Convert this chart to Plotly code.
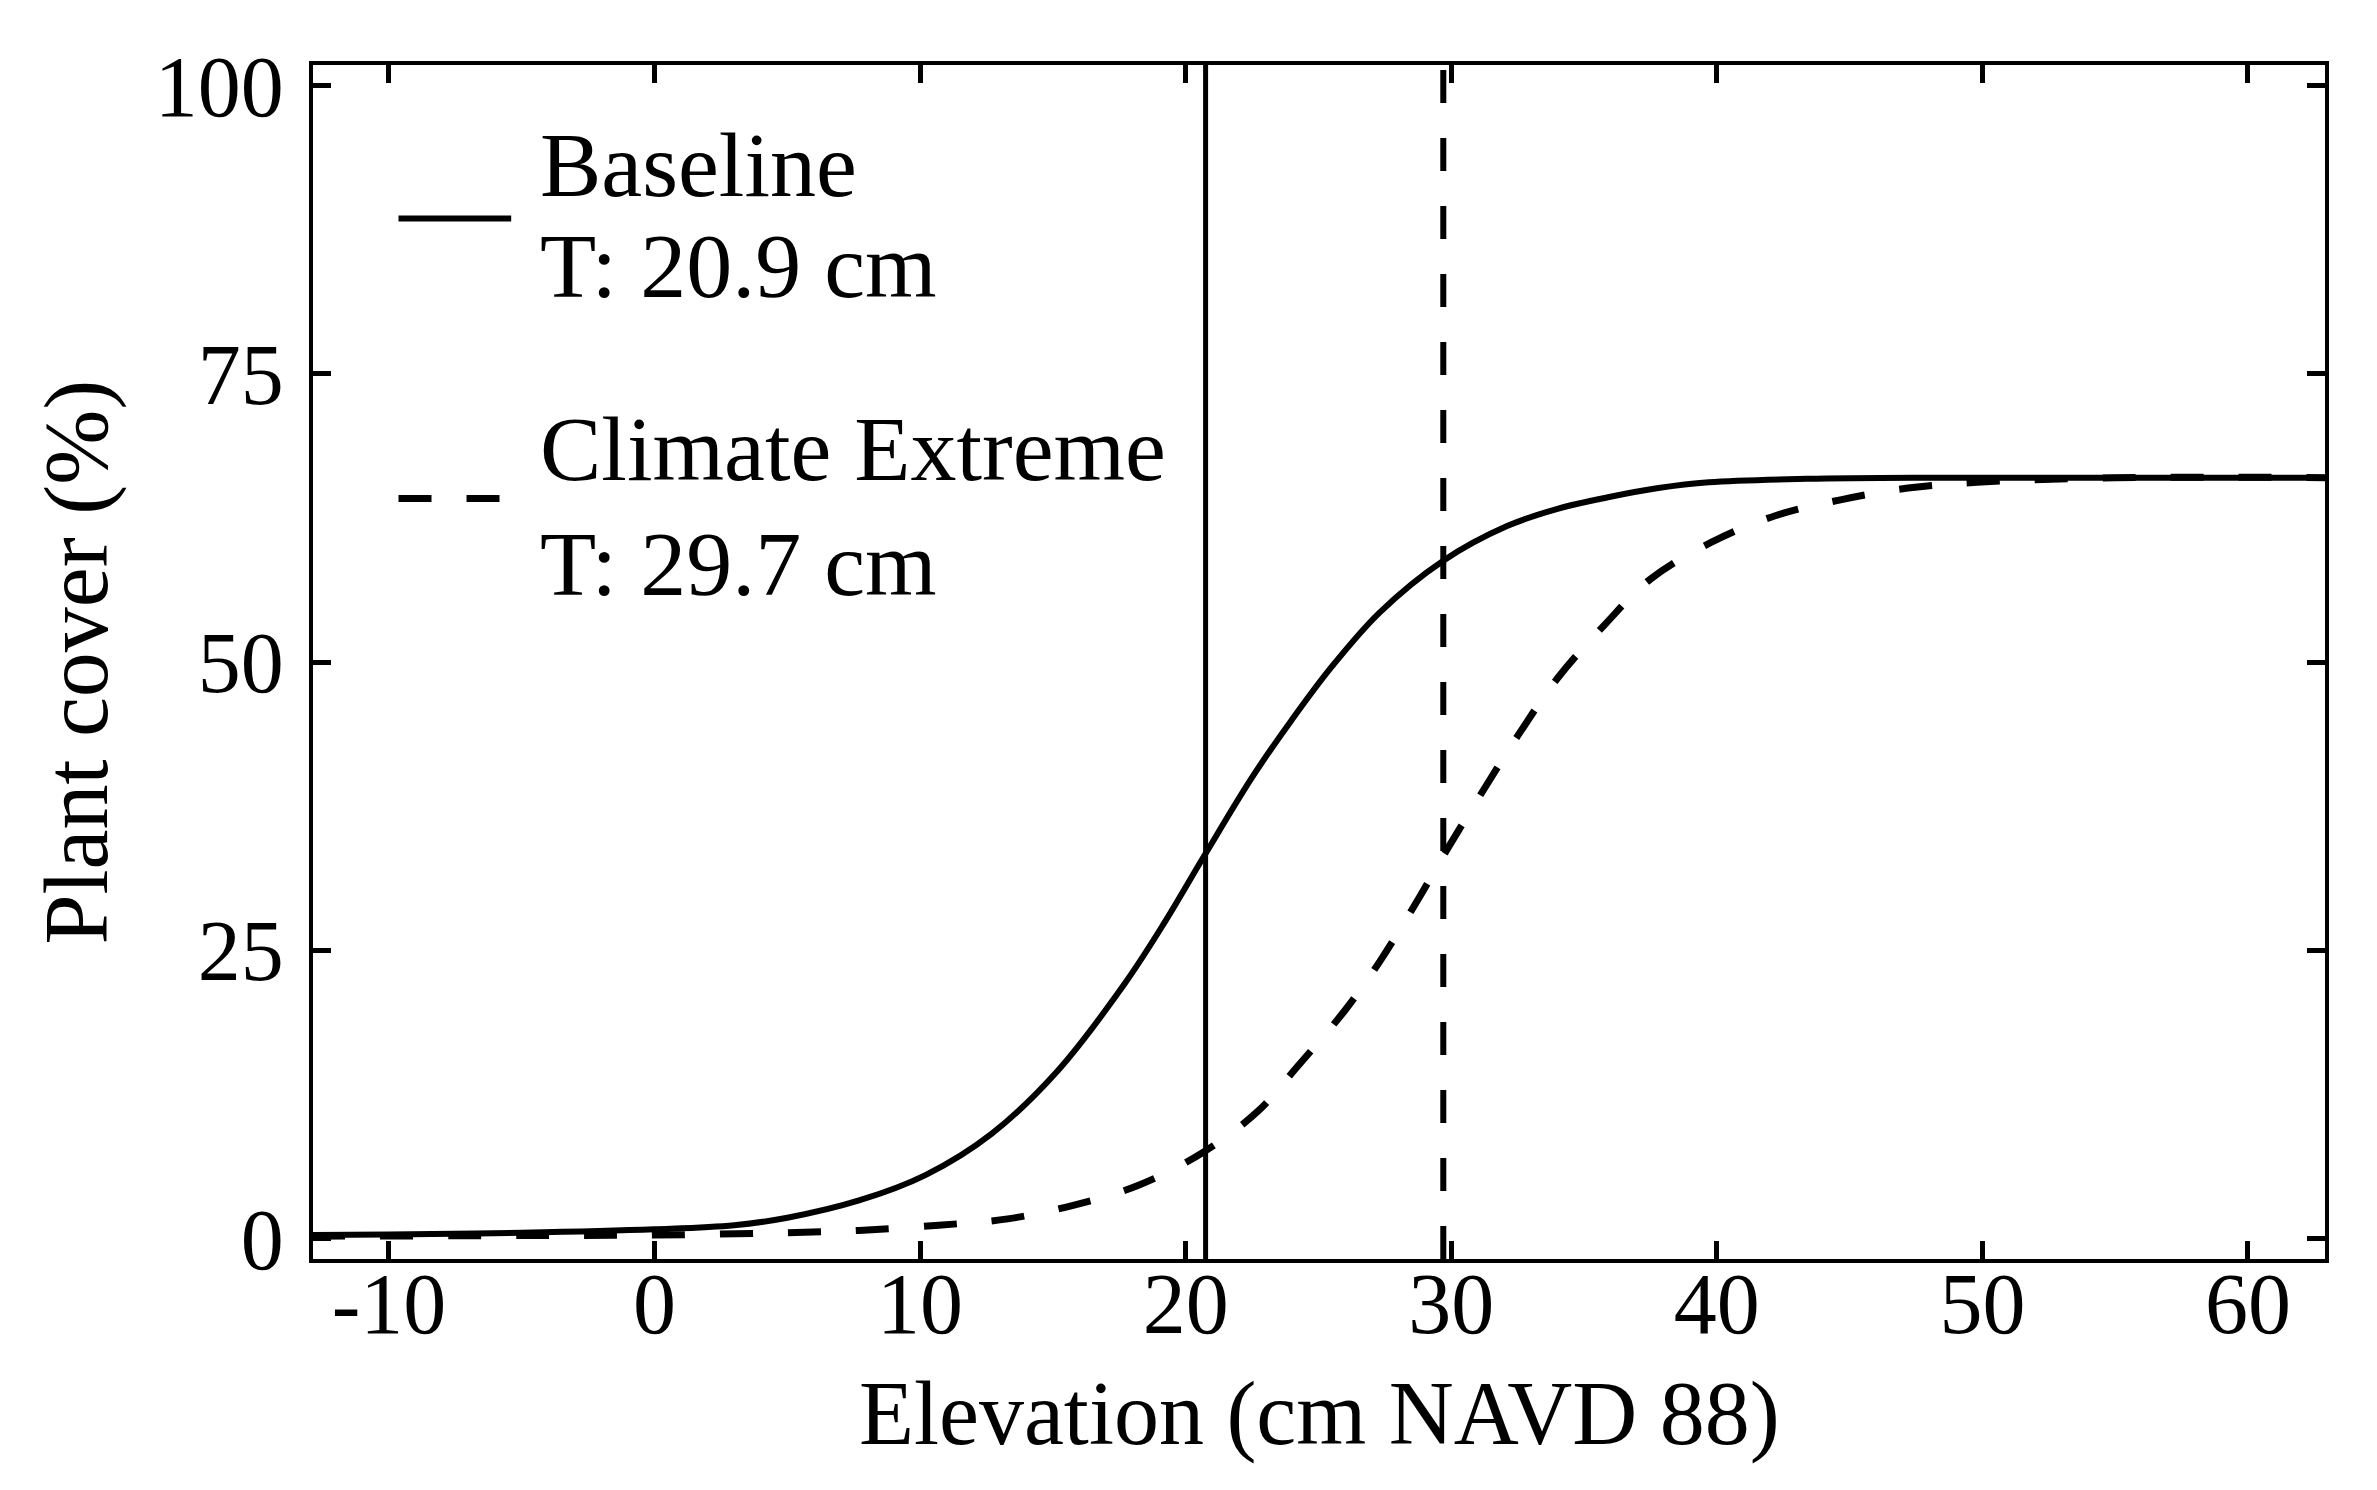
import plotly.graph_objects as go

# Plant cover vs elevation
BASELINE_X = [-12.9, -10, -5, 0, 3, 5, 7.7, 10.2, 12.7, 15.2, 17.7, 19.2, 20.7, 22.5, 24,
              25.5, 27.3, 29.7, 32.1, 34, 35.9, 37.8, 39.7, 43.4, 48, 55, 62.9]
BASELINE_Y = [0.3, 0.35, 0.5, 0.8, 1.15, 1.8, 3.3, 5.5, 9.1, 14.6, 22.1, 27.4, 33.2, 40.0,
              45.0, 49.6, 54.3, 58.8, 61.8, 63.3, 64.3, 65.1, 65.6, 65.9, 66.0, 66.0, 66.0]

EXTREME_X = [-12.9, -5, 0, 5, 7.7, 10.7, 13.3, 15.8, 18.2, 20.6, 22.7, 24.2, 26, 27.3, 28.8,
             29.7, 31.4, 32.5, 34, 35.8, 37.5, 39.8, 42.2, 44.7, 47.2, 49.8, 55, 62.9]
EXTREME_Y = [0.2, 0.25, 0.3, 0.5, 0.7, 1.15, 1.7, 2.9, 4.6, 7.4, 11.0, 14.9, 19.8, 24.0, 29.6,
             33.2, 39.6, 43.6, 48.6, 53.3, 57.2, 60.4, 62.7, 64.1, 65.1, 65.6, 66.0, 66.0]

THRESHOLDS = [20.75, 29.7]  # vertical T lines (baseline, climate extreme)
LEGEND_TEXT = [["Baseline", "T: 20.9 cm"], ["Climate Extreme", "T: 29.7 cm"]]

X_TICKS = [-10, 0, 10, 20, 30, 40, 50, 60]
X_TICK_TEXT = ["-10", "0", "10", "20", "30", "40", "50", "60"]
Y_TICKS = [0, 25, 50, 75, 100]

FONT = "Liberation Serif"
DASH = "33px,35px"

fig = go.Figure()
fig.add_trace(go.Scatter(x=BASELINE_X, y=BASELINE_Y, mode="lines", showlegend=False,
                         line=dict(color="black", width=6, shape="spline")))
fig.add_trace(go.Scatter(x=EXTREME_X, y=EXTREME_Y, mode="lines", showlegend=False,
                         line=dict(color="black", width=7, shape="spline", dash=DASH)))

# vertical threshold lines
fig.add_shape(type="line", xref="x", yref="paper", x0=THRESHOLDS[0], x1=THRESHOLDS[0],
              y0=0, y1=1, line=dict(color="black", width=5))
fig.add_shape(type="line", xref="x", yref="paper", x0=THRESHOLDS[1], x1=THRESHOLDS[1],
              y0=0, y1=1, line=dict(color="black", width=6, dash=DASH))

# hand-made legend
fig.add_shape(type="line", xref="paper", yref="paper", x0=0.0425, x1=0.0985,
              y0=0.8715, y1=0.8715, line=dict(color="black", width=6))
fig.add_shape(type="line", xref="paper", yref="paper", x0=0.0425, x1=0.0965,
              y0=0.637, y1=0.637, line=dict(color="black", width=7, dash=DASH))
for txt, yp in zip(LEGEND_TEXT[0] + LEGEND_TEXT[1], [0.916, 0.832, 0.678, 0.582]):
    fig.add_annotation(text=txt, xref="paper", yref="paper", x=0.1118, y=yp,
                       xanchor="left", yanchor="middle", showarrow=False,
                       font=dict(family=FONT, size=92, color="black"))

# axis titles
fig.add_annotation(text="Elevation (cm NAVD 88)", xref="paper", yref="paper",
                   x=0.5, y=-0.13, xanchor="center", yanchor="middle", showarrow=False,
                   font=dict(family=FONT, size=90, color="black"))
fig.add_annotation(text="Plant cover (%)", xref="paper", yref="paper",
                   x=-0.1175, y=0.5, xanchor="center", yanchor="middle", showarrow=False,
                   textangle=-90, font=dict(family=FONT, size=90, color="black"))

axis_style = dict(
    showgrid=False, zeroline=False, showline=True, linecolor="black", linewidth=4,
    mirror="allticks", ticks="inside", ticklen=18, tickwidth=5, tickcolor="black",
    tickfont=dict(family=FONT, size=86, color="black"),
)
fig.update_xaxes(range=[-12.86, 62.9], tickvals=X_TICKS, ticktext=X_TICK_TEXT,
                 ticklabelstandoff=-33, **axis_style)
fig.update_yaxes(range=[-1.78, 101.8], tickvals=Y_TICKS, ticklabelstandoff=8, **axis_style)

fig.update_layout(
    width=2377, height=1490,
    margin=dict(l=305, r=60, t=57, b=239),
    paper_bgcolor="white", plot_bgcolor="white",
    font=dict(family=FONT, color="black"),
)

fig.write_html("out.html")
